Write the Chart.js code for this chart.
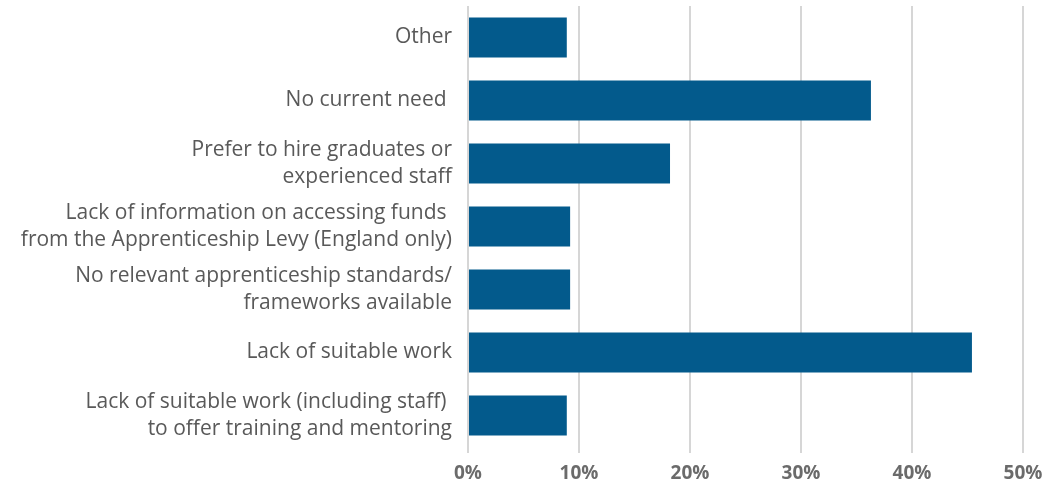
<!DOCTYPE html>
<html>
<head>
<meta charset="utf-8">
<script src="https://cdn.jsdelivr.net/npm/chart.js@4/dist/chart.umd.min.js"></script>
<style>
  html, body { margin: 0; padding: 0; background: #fff; }
  #wrap { width: 1043px; height: 484px; }
</style>
</head>
<body>
<div id="wrap"><canvas id="barChart"></canvas></div>
<script>
// categories, top to bottom
var categories = [
    'Other',
    'No current need ',
    ['Prefer to hire graduates or', 'experienced staff'],
    ['Lack of information on accessing funds ', 'from the Apprenticeship Levy (England only)'],
    ['No relevant apprenticeship standards/', 'frameworks available'],
    'Lack of suitable work',
    ['Lack of suitable work (including staff) ', 'to offer training and mentoring']
];
var shares = [8.9, 36.3, 18.2, 9.2, 9.2, 45.4, 8.9];   // percent
var tickValues = [0, 10, 20, 30, 40, 50];

var ctx = document.getElementById('barChart').getContext('2d');
var chart = new Chart(ctx, {
    type: 'bar',
    data: {
        labels: categories,
        datasets: [{
            data: shares,
            backgroundColor: '#035a8c',
            categoryPercentage: 0.635,
            barPercentage: 1.0
        }]
    },
    options: {
        indexAxis: 'y',
        responsive: true,
        maintainAspectRatio: false,
        animation: false,
        layout: { padding: { top: 6, right: 20, bottom: 0, left: 0 } },
        plugins: {
            legend: { display: false },
            tooltip: { enabled: false }
        },
        scales: {
            x: {
                min: 0,
                max: 50,
                afterBuildTicks: function(scale) {
                    scale.ticks = tickValues.map(function(v) { return { value: v }; });
                },
                afterFit: function(scale) {
                    scale.height = 37;
                    scale.paddingLeft = 0;
                    scale.paddingRight = 0;
                },
                border: { display: false },
                grid: {
                    color: '#d6d6d6',
                    lineWidth: 2,
                    tickLength: 6
                },
                ticks: {
                    padding: 9,
                    color: '#6b6b6b',
                    font: { family: 'Open Sans', size: 19, weight: 'bold' },
                    callback: function(v) { return v + '%'; }
                }
            },
            y: {
                border: { display: false },
                grid: { display: false },
                afterFit: function(scale) {
                    scale.width = 468;
                    scale.paddingTop = 0;
                    scale.paddingBottom = 0;
                },
                ticks: {
                    padding: 8,
                    color: '#595959',
                    font: { family: 'Open Sans', size: 21, lineHeight: 1.24 }
                }
            }
        }
    }
});
</script>
</body>
</html>
